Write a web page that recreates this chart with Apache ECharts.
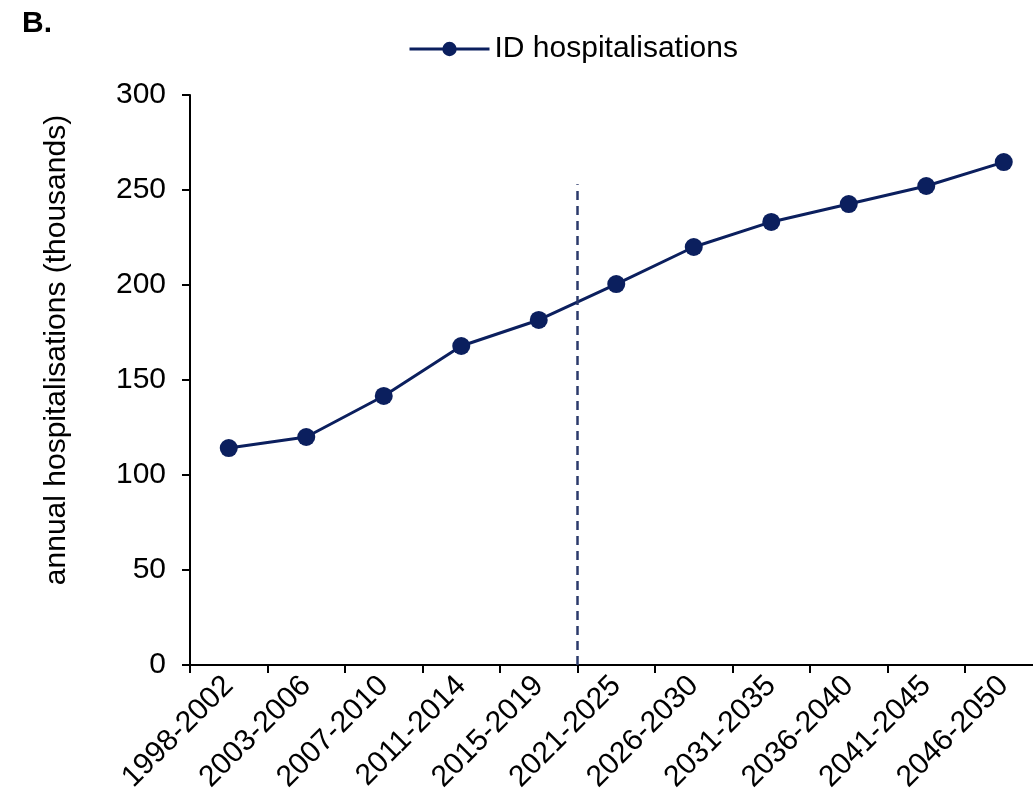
<!DOCTYPE html>
<html>
<head>
<meta charset="utf-8">
<script src="https://cdn.jsdelivr.net/npm/echarts@6/dist/echarts.min.js"></script>
<style>html,body{margin:0;padding:0;background:#fff}#c{width:1033px;height:803px}</style>
</head>
<body>
<div id="c"></div>
<script>
const categories = ['1998-2002','2003-2006','2007-2010','2011-2014','2015-2019','2021-2025','2026-2030','2031-2035','2036-2040','2041-2045','2046-2050'];
const hospitalisations = [114.2, 120.0, 141.6, 167.9, 181.6, 200.5, 220.0, 233.2, 242.6, 252.1, 264.7];
const yTicks = [0, 50, 100, 150, 200, 250, 300];
const dividerPosition = 5;      // boundary between 2015-2019 and 2021-2025 (in category units)
const dividerTop = 253;

const FONT = '"Liberation Sans", Arial, sans-serif';
const chart = echarts.init(document.getElementById('c'));
chart.setOption({
  animation: false,
  title: { text: 'B.', left: 17, top: 4, textStyle: { fontFamily: FONT, fontSize: 30, fontWeight: 'bold', color: '#000' } },
  legend: {
    data: ['ID hospitalisations'], left: 403, top: 29,
    itemWidth: 80, itemHeight: 18, itemGap: 10,
    lineStyle: { width: 3 },
    textStyle: { fontFamily: FONT, fontSize: 30, color: '#000' }
  },
  grid: { left: 190, right: -9.5, top: 95, bottom: 138, containLabel: false, outerBoundsMode: 'none' },
  xAxis: [{
    type: 'category', data: categories, boundaryGap: true,
    axisLine: { lineStyle: { color: '#000', width: 2 } },
    axisTick: { show: true, length: 8, lineStyle: { color: '#000', width: 2 } },
    axisLabel: { rotate: 45, interval: 0, fontFamily: FONT, fontSize: 30, color: '#000', margin: 16 },
    splitLine: { show: false }
  }, {
    type: 'value', min: 0, max: categories.length, show: false
  }],
  yAxis: {
    type: 'value', min: yTicks[0], max: yTicks[yTicks.length - 1], interval: 50,
    name: 'annual hospitalisations (thousands)', nameLocation: 'middle', nameGap: 118, nameRotate: 90,
    nameTextStyle: { fontFamily: FONT, fontSize: 30, color: '#000', padding: [0, 0, 0, 60] },
    axisLine: { show: true, lineStyle: { color: '#000', width: 2 } },
    axisTick: { show: true, length: 8, lineStyle: { color: '#000', width: 2 } },
    axisLabel: { fontFamily: FONT, fontSize: 30, color: '#000', margin: 24 },
    splitLine: { show: false }
  },
  series: [{
    name: 'ID hospitalisations', type: 'line', data: hospitalisations,
    symbol: 'circle', symbolSize: 18,
    lineStyle: { color: '#0b1f5e', width: 3 },
    itemStyle: { color: '#0b1f5e' }
  }, {
    name: 'divider', type: 'line', xAxisIndex: 1, silent: true,
    data: [[dividerPosition, 0], [dividerPosition, dividerTop]],
    symbol: 'none',
    lineStyle: { color: '#2b3a6b', width: 2.5, type: [9, 6] }
  }]
});
</script>
</body>
</html>
